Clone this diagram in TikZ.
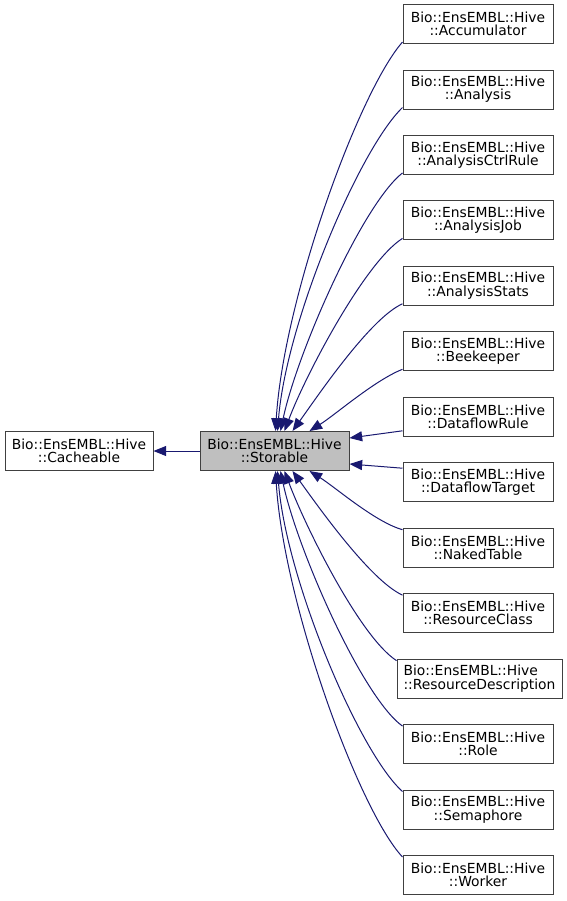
\documentclass[tikz,border=0pt]{standalone}
\usepackage{fontspec}
\setmainfont{DejaVu Sans}
\usetikzlibrary{arrows.meta,calc}
\definecolor{edgeblue}{HTML}{191970}
\definecolor{boxline}{HTML}{404040}
\definecolor{boxfill}{HTML}{BFBFBF}
\begin{document}
\begin{tikzpicture}[x=0.75pt,y=-0.75pt,
  cls/.style={draw=boxline,line width=0.75pt,fill=white,rectangle,inner sep=0pt,
    minimum width=112.5pt,minimum height=29.25pt,align=center,
    font=\fontsize{10.4pt}{10pt}\selectfont},
  cur/.style={cls,fill=boxfill},
  edge/.style={draw=edgeblue,line width=0.75pt,
    -{Triangle[length=9.5pt,width=7.5pt,fill=edgeblue]}}]
\useasboundingbox (0,0) rectangle (567,901);
% nodes
\node[cls,minimum width=111pt] (cache) at (79,451) {Bio::EnsEMBL::Hive\\::Cacheable};
\node[cur,minimum width=111.75pt] (st) at (274.5,451) {Bio::EnsEMBL::Hive\\::Storable};
\node[cls] (acc) at (478,24.0) {Bio::EnsEMBL::Hive\\::Accumulator};
\node[cls] (ana) at (478,89.5) {Bio::EnsEMBL::Hive\\::Analysis};
\node[cls] (ctrl) at (478,154.9) {Bio::EnsEMBL::Hive\\::AnalysisCtrlRule};
\node[cls] (job) at (478,220.4) {Bio::EnsEMBL::Hive\\::AnalysisJob};
\node[cls] (stats) at (478,285.8) {Bio::EnsEMBL::Hive\\::AnalysisStats};
\node[cls] (bee) at (478,351.3) {Bio::EnsEMBL::Hive\\::Beekeeper};
\node[cls] (dfr) at (478,416.8) {Bio::EnsEMBL::Hive\\::DataflowRule};
\node[cls] (dft) at (478,482.2) {Bio::EnsEMBL::Hive\\::DataflowTarget};
\node[cls] (naked) at (478,547.7) {Bio::EnsEMBL::Hive\\::NakedTable};
\node[cls] (rc) at (478,613.1) {Bio::EnsEMBL::Hive\\::ResourceClass};
\node[cls,minimum width=123.75pt,align=left] (rd) at (479.5,678.6) {Bio::EnsEMBL::Hive\\::ResourceDescription};
\node[cls] (role) at (478,744.1) {Bio::EnsEMBL::Hive\\::Role};
\node[cls] (sem) at (478,809.5) {Bio::EnsEMBL::Hive\\::Semaphore};
\node[cls] (work) at (478,875.0) {Bio::EnsEMBL::Hive\\::Worker};
% edges
\draw[edge] (st.west) -- (cache.east);
\draw[edge] ($(acc.south west)+(0,-2)$) .. controls (358.5,92.2) and (283.6,298.9) .. ($(st.north west)+(76,0)$);
\draw[edge] ($(ana.south west)+(0,-2)$) .. controls (359.3,149.2) and (286.5,321.2) .. ($(st.north west)+(78,0)$);
\draw[edge] ($(ctrl.south west)+(0,-2)$) .. controls (362,205) and (297,353) .. ($(st.north west)+(81,0)$);
\draw[edge] ($(job.south west)+(0,-2)$) .. controls (365,262) and (305.5,375) .. ($(st.north west)+(85,0)$);
\draw[edge] ($(stats.south west)+(0,-2)$) .. controls (370,318) and (316,398.5) .. ($(st.north west)+(93,0)$);
\draw[edge] ($(bee.south west)+(0,-2)$) .. controls (375,380) and (335,415) .. ($(st.north west)+(110,0)$);
\draw[edge] ($(dfr.south west)+(0,-6)$) -- ($(st.north east)+(0,7)$);
\draw[edge] ($(dft.north west)+(0,6)$) -- ($(st.south east)+(0,-7)$);
\draw[edge] ($(naked.north west)+(0,2)$) .. controls (375,522) and (335,487) .. ($(st.south west)+(110,0)$);
\draw[edge] ($(rc.north west)+(0,2)$) .. controls (370,580.5) and (316,503.5) .. ($(st.south west)+(93,0)$);
\draw[edge] ($(rd.north west)+(0,2)$) .. controls (360,637) and (305.5,527) .. ($(st.south west)+(85,0)$);
\draw[edge] ($(role.north west)+(0,2)$) .. controls (362,697) and (297,549) .. ($(st.south west)+(81,0)$);
\draw[edge] ($(sem.north west)+(0,2)$) .. controls (359.3,752.8) and (286.5,580.8) .. ($(st.south west)+(78,0)$);
\draw[edge] ($(work.north west)+(0,2)$) .. controls (358.5,809.8) and (283.6,603.1) .. ($(st.south west)+(76,0)$);
\end{tikzpicture}
\end{document}
